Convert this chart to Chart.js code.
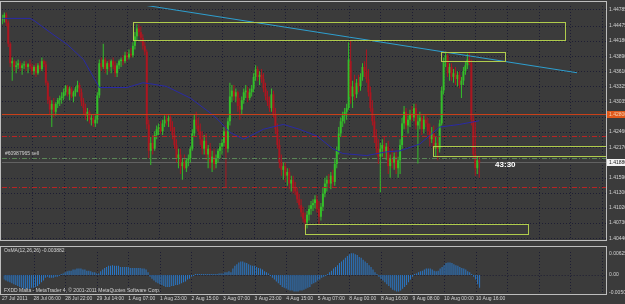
<!DOCTYPE html>
<html>
<head>
<meta charset="utf-8">
<script src="https://cdn.jsdelivr.net/npm/chart.js@4/dist/chart.umd.min.js"></script>
<style>
html, body { margin: 0; padding: 0; background: #3b3b3b; }
#wrap { position: relative; width: 625px; height: 304px; overflow: hidden; }
canvas { position: absolute; left: 0; }
#main { top: 0; }
#osc { top: 246px; }
</style>
</head>
<body>
<div id="wrap">
  <canvas id="main" width="625" height="246"></canvas>
  <canvas id="osc" width="625" height="58"></canvas>
</div>
<script>
// EURUSD H1, bars numbered from the first time label (27 Jul 2011)
const timeLabels = ['27 Jul 2011', '28 Jul 06:00', '28 Jul 22:00', '29 Jul 14:00', '1 Aug 07:00', '1 Aug 23:00',
  '2 Aug 15:00', '3 Aug 07:00', '3 Aug 23:00', '4 Aug 15:00', '5 Aug 07:00', '8 Aug 00:00', '8 Aug 16:00',
  '9 Aug 08:00', '10 Aug 00:00', '10 Aug 16:00'];
const labelIdx = [0, 16, 32, 48, 64, 80, 96, 112, 128, 144, 160, 176, 192, 208, 224, 240];
const gridIdx = [16, 32, 48, 64, 80, 96, 112, 128, 144, 160, 176, 192, 208, 224, 240, 256, 272, 288, 304];
const priceTicks = [1.44785, 1.44475, 1.44180, 1.43890, 1.43610, 1.43325, 1.43035, 1.42750,
  1.42460, 1.42170, 1.41880, 1.41590, 1.41300, 1.41020, 1.40730, 1.40440];

const opens = [
  1.4457,1.4462,1.4468,1.4453,1.4413,1.4376,1.4380,1.4369,1.4372,1.4376,
  1.4367,1.4372,1.4374,1.4369,1.4374,1.4370,1.4361,1.4369,1.4357,1.4372,
  1.4365,1.4380,1.4374,1.4339,1.4306,1.4288,1.4299,1.4284,1.4299,1.4306,
  1.4310,1.4313,1.4321,1.4332,1.4317,1.4328,1.4313,1.4321,1.4328,1.4335,
  1.4321,1.4302,1.4291,1.4277,1.4284,1.4269,1.4273,1.4262,1.4269,1.4315,
  1.4376,1.4369,1.4383,1.4365,1.4376,1.4369,1.4380,1.4372,1.4357,1.4372,
  1.4380,1.4383,1.4380,1.4391,1.4387,1.4394,1.4391,1.4409,1.4427,1.4442,
  1.4435,1.4424,1.4409,1.4398,1.4260,1.4210,1.4225,1.4214,1.4240,1.4251,
  1.4255,1.4247,1.4262,1.4269,1.4266,1.4273,1.4255,1.4240,1.4221,1.4196,
  1.4203,1.4181,1.4188,1.4177,1.4192,1.4196,1.4214,1.4243,1.4269,1.4258,
  1.4247,1.4232,1.4214,1.4229,1.4203,1.4214,1.4188,1.4199,1.4185,1.4196,
  1.4210,1.4218,1.4225,1.4247,1.4214,1.4266,1.4313,1.4324,1.4313,1.4321,
  1.4295,1.4288,1.4306,1.4321,1.4324,1.4310,1.4321,1.4328,1.4350,1.4365,
  1.4350,1.4354,1.4346,1.4328,1.4313,1.4302,1.4291,1.4317,1.4280,1.4251,
  1.4221,1.4188,1.4174,1.4181,1.4163,1.4170,1.4148,1.4155,1.4140,1.4133,
  1.4118,1.4107,1.4093,1.4081,1.4074,1.4089,1.4100,1.4107,1.4111,1.4118,
  1.4100,1.4085,1.4104,1.4129,1.4148,1.4155,1.4148,1.4163,1.4151,1.4185,
  1.4210,1.4243,1.4266,1.4277,1.4284,1.4291,1.4380,1.4313,1.4332,1.4317,
  1.4339,1.4332,1.4350,1.4369,1.4361,1.4346,1.4321,1.4291,1.4266,1.4236,
  1.4214,1.4199,1.4214,1.4221,1.4207,1.4218,1.4181,1.4196,1.4188,1.4199,
  1.4177,1.4192,1.4221,1.4262,1.4284,1.4258,1.4269,1.4280,1.4273,1.4291,
  1.4258,1.4266,1.4273,1.4251,1.4269,1.4262,1.4247,1.4232,1.4243,1.4214,
  1.4225,1.4214,1.4262,1.4324,1.4380,1.4391,1.4357,1.4369,1.4350,1.4357,
  1.4346,1.4354,1.4335,1.4343,1.4361,1.4372,1.4383,1.4376,1.4269,1.4203,
  1.4177,1.4192];
const highs = [
  1.4468,1.4472,1.4472,1.4457,1.4416,1.4387,1.4383,1.4380,1.4383,1.4380,
  1.4376,1.4380,1.4380,1.4376,1.4383,1.4376,1.4372,1.4376,1.4376,1.4380,
  1.4387,1.4383,1.4380,1.4343,1.4313,1.4306,1.4310,1.4302,1.4310,1.4315,
  1.4321,1.4328,1.4335,1.4335,1.4332,1.4332,1.4324,1.4332,1.4343,1.4339,
  1.4328,1.4310,1.4299,1.4291,1.4288,1.4280,1.4280,1.4277,1.4321,1.4383,
  1.4387,1.4413,1.4387,1.4380,1.4383,1.4383,1.4387,1.4380,1.4376,1.4383,
  1.4387,1.4391,1.4398,1.4398,1.4402,1.4405,1.4416,1.4435,1.4450,1.4450,
  1.4446,1.4431,1.4416,1.4402,1.4269,1.4236,1.4240,1.4247,1.4258,1.4262,
  1.4266,1.4269,1.4277,1.4280,1.4277,1.4277,1.4266,1.4255,1.4232,1.4214,
  1.4214,1.4196,1.4203,1.4196,1.4203,1.4218,1.4251,1.4280,1.4284,1.4273,
  1.4262,1.4247,1.4240,1.4243,1.4221,1.4225,1.4210,1.4214,1.4203,1.4214,
  1.4225,1.4232,1.4255,1.4258,1.4273,1.4339,1.4335,1.4335,1.4328,1.4324,
  1.4310,1.4313,1.4328,1.4335,1.4332,1.4328,1.4335,1.4357,1.4372,1.4370,
  1.4361,1.4365,1.4357,1.4339,1.4324,1.4313,1.4328,1.4324,1.4291,1.4262,
  1.4232,1.4203,1.4188,1.4188,1.4177,1.4177,1.4163,1.4163,1.4151,1.4140,
  1.4129,1.4118,1.4104,1.4093,1.4096,1.4107,1.4115,1.4118,1.4126,1.4126,
  1.4115,1.4111,1.4140,1.4159,1.4163,1.4166,1.4170,1.4174,1.4196,1.4218,
  1.4255,1.4273,1.4284,1.4291,1.4299,1.4416,1.4420,1.4343,1.4354,1.4346,
  1.4354,1.4357,1.4376,1.4380,1.4402,1.4365,1.4332,1.4306,1.4277,1.4251,
  1.4232,1.4225,1.4232,1.4236,1.4225,1.4229,1.4203,1.4214,1.4207,1.4210,
  1.4199,1.4232,1.4273,1.4295,1.4291,1.4277,1.4288,1.4295,1.4299,1.4299,
  1.4280,1.4284,1.4280,1.4277,1.4280,1.4273,1.4262,1.4255,1.4258,1.4236,
  1.4236,1.4269,1.4332,1.4387,1.4398,1.4394,1.4376,1.4376,1.4365,1.4369,
  1.4361,1.4361,1.4350,1.4369,1.4380,1.4394,1.4398,1.4383,1.4277,1.4266,
  1.4199,1.4199];
const lows = [
  1.4450,1.4453,1.4446,1.4407,1.4369,1.4343,1.4361,1.4357,1.4365,1.4361,
  1.4354,1.4365,1.4361,1.4357,1.4365,1.4354,1.4354,1.4350,1.4354,1.4361,
  1.4361,1.4369,1.4334,1.4299,1.4278,1.4255,1.4273,1.4277,1.4291,1.4295,
  1.4299,1.4306,1.4315,1.4313,1.4306,1.4310,1.4302,1.4313,1.4321,1.4313,
  1.4295,1.4280,1.4269,1.4266,1.4262,1.4258,1.4255,1.4255,1.4262,1.4310,
  1.4361,1.4365,1.4357,1.4354,1.4361,1.4357,1.4365,1.4350,1.4350,1.4365,
  1.4369,1.4372,1.4376,1.4380,1.4383,1.4387,1.4387,1.4402,1.4420,1.4427,
  1.4416,1.4402,1.4391,1.4251,1.4196,1.4183,1.4203,1.4210,1.4232,1.4240,
  1.4243,1.4240,1.4255,1.4258,1.4255,1.4247,1.4232,1.4214,1.4188,1.4177,
  1.4166,1.4155,1.4174,1.4170,1.4181,1.4188,1.4210,1.4236,1.4251,1.4240,
  1.4221,1.4203,1.4203,1.4192,1.4177,1.4177,1.4170,1.4174,1.4177,1.4188,
  1.4196,1.4203,1.4218,1.4140,1.4207,1.4258,1.4302,1.4306,1.4302,1.4284,
  1.4269,1.4280,1.4299,1.4310,1.4302,1.4306,1.4313,1.4321,1.4343,1.4343,
  1.4335,1.4339,1.4321,1.4306,1.4295,1.4284,1.4284,1.4273,1.4242,1.4214,
  1.4177,1.4163,1.4155,1.4151,1.4144,1.4137,1.4133,1.4129,1.4126,1.4111,
  1.4100,1.4085,1.4074,1.4061,1.4063,1.4078,1.4089,1.4096,1.4100,1.4093,
  1.4070,1.4078,1.4096,1.4122,1.4133,1.4140,1.4137,1.4140,1.4144,1.4177,
  1.4203,1.4236,1.4255,1.4262,1.4269,1.4288,1.4299,1.4291,1.4306,1.4310,
  1.4321,1.4324,1.4343,1.4350,1.4339,1.4313,1.4284,1.4258,1.4225,1.4203,
  1.4185,1.4131,1.4199,1.4196,1.4192,1.4166,1.4159,1.4177,1.4174,1.4166,
  1.4159,1.4166,1.4214,1.4251,1.4251,1.4243,1.4255,1.4266,1.4266,1.4251,
  1.4186,1.4251,1.4240,1.4243,1.4255,1.4240,1.4218,1.4225,1.4203,1.4199,
  1.4192,1.4207,1.4258,1.4317,1.4369,1.4350,1.4343,1.4343,1.4339,1.4335,
  1.4332,1.4328,1.4310,1.4335,1.4354,1.4365,1.4372,1.4258,1.4196,1.4163,
  1.4166,1.4159];
const closes = [
  1.4462,1.4468,1.4453,1.4413,1.4376,1.4380,1.4369,1.4372,1.4376,1.4367,
  1.4372,1.4374,1.4369,1.4374,1.4370,1.4361,1.4369,1.4357,1.4372,1.4365,
  1.4380,1.4374,1.4339,1.4306,1.4288,1.4299,1.4284,1.4299,1.4306,1.4310,
  1.4313,1.4321,1.4332,1.4317,1.4328,1.4313,1.4321,1.4328,1.4335,1.4321,
  1.4302,1.4291,1.4277,1.4284,1.4269,1.4273,1.4262,1.4269,1.4315,1.4376,
  1.4369,1.4383,1.4365,1.4376,1.4369,1.4380,1.4372,1.4357,1.4372,1.4380,
  1.4383,1.4380,1.4391,1.4387,1.4394,1.4391,1.4409,1.4427,1.4442,1.4435,
  1.4424,1.4409,1.4398,1.4260,1.4210,1.4225,1.4214,1.4240,1.4251,1.4255,
  1.4247,1.4262,1.4269,1.4266,1.4273,1.4255,1.4240,1.4221,1.4196,1.4203,
  1.4181,1.4188,1.4177,1.4192,1.4196,1.4214,1.4243,1.4269,1.4258,1.4247,
  1.4232,1.4214,1.4229,1.4203,1.4214,1.4188,1.4199,1.4185,1.4196,1.4210,
  1.4218,1.4225,1.4247,1.4214,1.4266,1.4313,1.4324,1.4313,1.4321,1.4295,
  1.4288,1.4306,1.4321,1.4324,1.4310,1.4321,1.4328,1.4350,1.4365,1.4350,
  1.4354,1.4346,1.4328,1.4313,1.4302,1.4291,1.4317,1.4280,1.4251,1.4221,
  1.4188,1.4174,1.4181,1.4163,1.4170,1.4148,1.4155,1.4140,1.4133,1.4118,
  1.4107,1.4093,1.4081,1.4074,1.4089,1.4100,1.4107,1.4111,1.4118,1.4100,
  1.4085,1.4104,1.4129,1.4148,1.4155,1.4148,1.4163,1.4151,1.4185,1.4210,
  1.4243,1.4266,1.4277,1.4284,1.4291,1.4383,1.4313,1.4332,1.4317,1.4339,
  1.4332,1.4350,1.4369,1.4361,1.4346,1.4321,1.4291,1.4266,1.4236,1.4214,
  1.4199,1.4214,1.4221,1.4207,1.4218,1.4181,1.4196,1.4188,1.4199,1.4177,
  1.4192,1.4221,1.4262,1.4284,1.4258,1.4269,1.4280,1.4273,1.4291,1.4258,
  1.4266,1.4273,1.4251,1.4269,1.4262,1.4247,1.4232,1.4243,1.4214,1.4225,
  1.4214,1.4262,1.4324,1.4380,1.4391,1.4357,1.4369,1.4350,1.4357,1.4346,
  1.4354,1.4335,1.4343,1.4361,1.4372,1.4383,1.4376,1.4269,1.4203,1.4177,
  1.4192,1.4188];

// moving average (blue), read at a few bars
const maIdx = [1, 15, 17, 25, 34, 42, 50, 64, 72, 76, 84, 96, 106, 110, 116, 123, 133, 143, 151, 160, 168, 173, 185, 195, 202, 212, 222, 232, 242];
const maVals = [1.4461, 1.4461, 1.4457, 1.4435, 1.4411, 1.4383, 1.4330, 1.4330, 1.4339, 1.4337, 1.4332, 1.4310, 1.4282,
  1.4269, 1.4245, 1.4232, 1.4251, 1.4260, 1.4251, 1.4238, 1.4214, 1.4205, 1.4201, 1.4208, 1.4210, 1.4223, 1.4255, 1.4260, 1.4267];

const osma = [
  -0.0013,-0.0016,-0.0019,-0.0021,-0.0024,-0.0027,-0.0029,-0.0032,-0.0035,-0.0037,
  -0.0040,-0.0040,-0.0040,-0.0040,-0.0037,-0.0037,-0.0035,-0.0032,-0.0027,-0.0021,
  -0.0016,-0.0008,-0.0005,-0.0008,-0.0008,-0.0008,-0.0005,-0.0005,-0.0003,0.0003,
  0.0005,0.0008,0.0011,0.0013,0.0013,0.0016,0.0016,0.0019,0.0019,0.0019,
  0.0016,0.0016,0.0013,0.0013,0.0011,0.0008,0.0008,0.0005,0.0005,0.0011,
  0.0016,0.0021,0.0024,0.0027,0.0027,0.0029,0.0027,0.0027,0.0027,0.0024,
  0.0024,0.0024,0.0024,0.0024,0.0021,0.0021,0.0021,0.0021,0.0021,0.0021,
  0.0019,0.0019,0.0016,0.0008,-0.0005,-0.0011,-0.0016,-0.0021,-0.0024,-0.0027,
  -0.0029,-0.0032,-0.0035,-0.0035,-0.0035,-0.0032,-0.0032,-0.0029,-0.0029,-0.0027,
  -0.0024,-0.0021,-0.0019,-0.0013,-0.0011,-0.0005,-0.0003,0.0003,0.0003,0.0003,
  0.0003,0.0003,0.0003,0.0003,0.0003,0.0003,0.0003,0.0003,0.0003,0.0005,
  0.0005,0.0005,0.0008,0.0008,0.0011,0.0008,0.0019,0.0027,0.0032,0.0037,
  0.0040,0.0040,0.0037,0.0035,0.0032,0.0029,0.0027,0.0027,0.0024,0.0021,
  0.0019,0.0016,0.0011,0.0008,0.0005,-0.0003,-0.0008,-0.0013,-0.0019,-0.0024,
  -0.0029,-0.0035,-0.0037,-0.0040,-0.0043,-0.0045,-0.0045,-0.0048,-0.0048,-0.0048,
  -0.0045,-0.0045,-0.0043,-0.0040,-0.0037,-0.0035,-0.0027,-0.0024,-0.0021,-0.0016,
  -0.0013,-0.0008,-0.0005,-0.0003,0.0003,0.0008,0.0013,0.0019,0.0024,0.0029,
  0.0035,0.0040,0.0045,0.0051,0.0056,0.0061,0.0064,0.0064,0.0061,0.0059,
  0.0053,0.0051,0.0045,0.0040,0.0035,0.0029,0.0024,0.0016,0.0008,0.0003,
  -0.0005,-0.0011,-0.0016,-0.0021,-0.0027,-0.0032,-0.0037,-0.0043,-0.0045,-0.0048,
  -0.0048,-0.0045,-0.0040,-0.0035,-0.0029,-0.0021,-0.0013,-0.0005,0.0003,0.0005,
  0.0008,0.0011,0.0013,0.0016,0.0019,0.0019,0.0019,0.0016,0.0013,0.0011,
  0.0013,0.0019,0.0024,0.0029,0.0035,0.0037,0.0037,0.0035,0.0032,0.0029,
  0.0027,0.0024,0.0021,0.0019,0.0016,0.0011,0.0008,0.0003,-0.0005,-0.0013,
  -0.0027,-0.0037];
const oscTicks = [0.00625, 0, -0.00503];
const oscTickLabels = ['0.006250', '0.00', '-0.00503'];

// chart objects
const redLevel = 1.4280;
const dashRedLevels = [1.4238, 1.4142];
const sellLevel = 1.4197;
const bidPrice = 1.4188;
const trendIdx = [73, 291.4];
const trendVals = [1.4486, 1.4358];
// [first bar, last bar, top price, bottom price]
const boxes = [[67, 285.3, 1.4455, 1.4420], [222.7, 255, 1.4398, 1.4381], [218.6, 330, 1.4220, 1.4201], [153.9, 266.6, 1.4072, 1.4053]];

const X_MIN = 0.84, X_MAX = 306.05;
const Y_MIN = 1.40410, Y_MAX = 1.44845;
const OSC_MIN = -0.00553, OSC_MAX = 0.00675;
const FONT = "'Liberation Sans', Arial, sans-serif";
const TXT = '#d2d2d2';
const GRID = '#1d1d33';
const UP = '#34be2a', DOWN = '#ac1620';

const bars = closes.map((c, k) => k + 1);
const candleColors = bars.map((b, k) => closes[k] > opens[k] ? UP : DOWN);

function hline(ctx, x0, x1, y) { ctx.beginPath(); ctx.moveTo(x0, y); ctx.lineTo(x1, y); ctx.stroke(); }
function vline(ctx, x, y0, y1) { ctx.beginPath(); ctx.moveTo(x, y0); ctx.lineTo(x, y1); ctx.stroke(); }
const snap = v => Math.round(v) + 0.5;

const mainDecor = {
  id: 'mainDecor',
  beforeDatasetsDraw(chart) {
    const { ctx, chartArea: a, scales: { x, y } } = chart;
    ctx.save();
    ctx.strokeStyle = GRID;
    ctx.lineWidth = 1;
    ctx.setLineDash([1, 2]);
    gridIdx.forEach(v => vline(ctx, snap(x.getPixelForValue(v)), a.top, a.bottom));
    priceTicks.forEach(v => hline(ctx, a.left, a.right, snap(y.getPixelForValue(v))));
    // bid line
    ctx.setLineDash([]);
    ctx.strokeStyle = '#626262';
    hline(ctx, a.left, a.right, snap(y.getPixelForValue(bidPrice)));
    ctx.restore();
  },
  afterDatasetsDraw(chart) {
    const { ctx, chartArea: a, scales: { x, y } } = chart;
    ctx.save();
    ctx.beginPath();
    ctx.rect(a.left, a.top, a.width, a.height);
    ctx.clip();
    ctx.lineWidth = 1;
    // levels
    ctx.strokeStyle = '#c8401a';
    hline(ctx, a.left, a.right, snap(y.getPixelForValue(redLevel)));
    ctx.setLineDash([5, 2, 1, 2]);
    ctx.strokeStyle = '#b82424';
    dashRedLevels.forEach(v => hline(ctx, a.left, a.right, snap(y.getPixelForValue(v))));
    ctx.strokeStyle = '#5a8656';
    hline(ctx, a.left, a.right, snap(y.getPixelForValue(sellLevel)));
    ctx.setLineDash([]);
    // trend line
    ctx.strokeStyle = '#2e9fcf';
    ctx.beginPath();
    ctx.moveTo(x.getPixelForValue(trendIdx[0]), y.getPixelForValue(trendVals[0]));
    ctx.lineTo(x.getPixelForValue(trendIdx[1]), y.getPixelForValue(trendVals[1]));
    ctx.stroke();
    // rectangles
    ctx.strokeStyle = '#b0cc4c';
    ctx.lineWidth = 1;
    boxes.forEach(b => {
      const x0 = snap(x.getPixelForValue(b[0])), x1 = snap(x.getPixelForValue(b[1]));
      const y0 = snap(y.getPixelForValue(b[2])), y1 = snap(y.getPixelForValue(b[3]));
      ctx.strokeRect(x0, y0, x1 - x0, y1 - y0);
    });
    // texts
    ctx.fillStyle = TXT;
    ctx.font = '5px ' + FONT;
    ctx.textBaseline = 'middle';
    ctx.fillText('#60987965 sell', a.left + 3, y.getPixelForValue(sellLevel) - 4);
    ctx.fillStyle = '#ffffff';
    ctx.font = 'bold 8px ' + FONT;
    ctx.fillText('43:30', x.getPixelForValue(bars[bars.length - 1] + 8), y.getPixelForValue(bidPrice) + 2.5);
    ctx.restore();
  },
  afterDraw(chart) {
    const { ctx, chartArea: a, scales: { y } } = chart;
    ctx.save();
    ctx.font = '5px ' + FONT;
    ctx.textBaseline = 'middle';
    const py = y.getPixelForValue(redLevel);
    ctx.fillStyle = '#e0581a';
    ctx.fillRect(a.right + 1, Math.round(py) - 3, 20, 7);
    ctx.fillStyle = '#f4d0b0';
    ctx.fillText(redLevel.toFixed(5), a.right + 3, py + 0.5);
    const pb = y.getPixelForValue(bidPrice);
    ctx.fillStyle = '#f2f2f2';
    ctx.fillRect(a.right + 1, Math.round(pb) - 3, 20, 7);
    ctx.fillStyle = '#222222';
    ctx.fillText(bidPrice.toFixed(5), a.right + 3, pb + 0.5);
    ctx.strokeStyle = '#bdbdbd';
    ctx.lineWidth = 1;
    ctx.strokeRect(0.5, 1.5, a.right, a.bottom - 1);
    ctx.restore();
  }
};

new Chart(document.getElementById('main'), {
  type: 'bar',
  data: {
    datasets: [
      { type: 'line', data: maIdx.map((v, k) => ({ x: v, y: maVals[k] })), borderColor: '#2a2aa6', borderWidth: 1, pointRadius: 0, order: 0 },
      { data: bars.map((b, k) => ({ x: b, y: [lows[k], highs[k]] })), backgroundColor: candleColors, barThickness: 1, grouped: false, inflateAmount: 0, order: 2 },
      { data: bars.map((b, k) => ({ x: b, y: [opens[k], closes[k]] })), backgroundColor: candleColors, barThickness: 2, minBarLength: 1, grouped: false, inflateAmount: 0, order: 1 }
    ]
  },
  options: {
    responsive: false,
    animation: false,
    events: [],
    layout: { padding: { left: 2, top: 3, right: 0, bottom: 2 } },
    plugins: { legend: { display: false }, tooltip: { enabled: false } },
    scales: {
      x: {
        type: 'linear', min: X_MIN, max: X_MAX, offset: false,
        grid: { display: false, drawTicks: false }, border: { display: false },
        ticks: { display: false },
        afterFit: s => { s.height = 0; }
      },
      y: {
        type: 'linear', position: 'right', min: Y_MIN, max: Y_MAX,
        grid: { display: false, drawTicks: false }, border: { display: false },
        afterBuildTicks: s => { s.ticks = priceTicks.map(v => ({ value: v })); },
        afterFit: s => { s.width = 19; },
        ticks: { autoSkip: false, padding: 3, color: TXT, font: { family: FONT, size: 5 }, callback: v => v.toFixed(5) }
      }
    }
  },
  plugins: [mainDecor]
});

const oscDecor = {
  id: 'oscDecor',
  beforeDatasetsDraw(chart) {
    const { ctx, chartArea: a, scales: { x, y } } = chart;
    ctx.save();
    ctx.strokeStyle = GRID;
    ctx.lineWidth = 1;
    ctx.setLineDash([1, 2]);
    gridIdx.forEach(v => vline(ctx, snap(x.getPixelForValue(v)), a.top, a.bottom));
    hline(ctx, a.left, a.right, snap(y.getPixelForValue(0)));
    ctx.restore();
  },
  afterDraw(chart) {
    const { ctx, chartArea: a } = chart;
    ctx.save();
    ctx.strokeStyle = '#bdbdbd';
    ctx.lineWidth = 1;
    ctx.strokeRect(0.5, 0.5, a.right, a.bottom);
    ctx.fillStyle = TXT;
    ctx.font = '5px ' + FONT;
    ctx.textBaseline = 'middle';
    ctx.fillText('OsMA(12,26,26) -0.003882', 4, 4.5);
    ctx.fillText('FXDD Malta - MetaTrader 4, \u00a9 2001-2011 MetaQuotes Software Corp.', 4, 45);
    ctx.restore();
  }
};

new Chart(document.getElementById('osc'), {
  type: 'bar',
  data: {
    datasets: [
      { data: bars.map((b, k) => ({ x: b, y: osma[k] })), backgroundColor: '#2a78c8', barThickness: 1, inflateAmount: 0 }
    ]
  },
  options: {
    responsive: false,
    animation: false,
    events: [],
    layout: { padding: { left: 2, top: 2, right: 0, bottom: 0 } },
    plugins: { legend: { display: false }, tooltip: { enabled: false } },
    scales: {
      x: {
        type: 'linear', min: X_MIN, max: X_MAX, offset: false,
        grid: { display: false, drawTicks: false }, border: { display: false },
        afterBuildTicks: s => { s.ticks = labelIdx.map(v => ({ value: v })); },
        afterFit: s => { s.height = 10; },
        ticks: { autoSkip: false, maxRotation: 0, align: 'start', padding: 2, color: TXT, font: { family: FONT, size: 5 }, callback: (v, k) => timeLabels[k] }
      },
      y: {
        type: 'linear', position: 'right', min: OSC_MIN, max: OSC_MAX,
        grid: { display: false, drawTicks: false }, border: { display: false },
        afterBuildTicks: s => { s.ticks = oscTicks.map(v => ({ value: v })); },
        afterFit: s => { s.width = 19; },
        ticks: { autoSkip: false, padding: 3, color: TXT, font: { family: FONT, size: 5 }, callback: (v, k) => oscTickLabels[k] }
      }
    }
  },
  plugins: [oscDecor]
});
</script>
</body>
</html>
